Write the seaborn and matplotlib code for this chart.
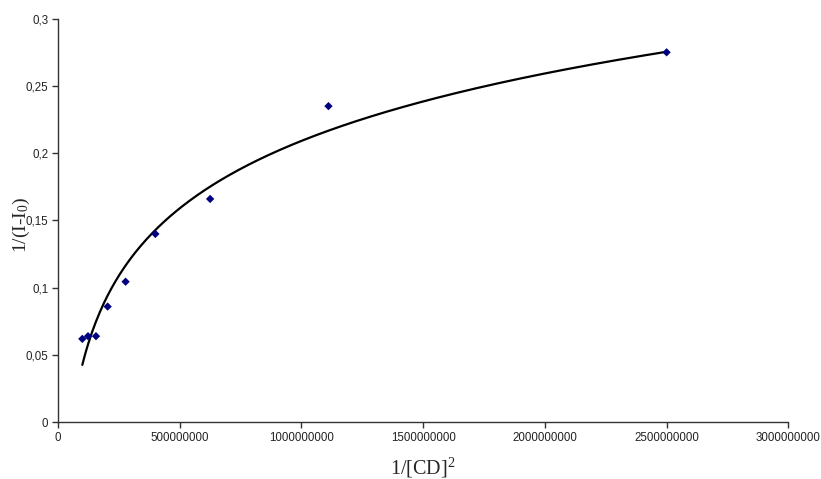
import numpy as np
import pandas as pd
import matplotlib
matplotlib.use('Agg')
import matplotlib.pyplot as plt
from matplotlib.ticker import FuncFormatter
import seaborn as sns

# data: x = 1/[CD]^2, y = 1/(I-I0)
inv_cd2 = [1.0e8, 1.2346e8, 1.5625e8, 2.0408e8, 2.7778e8, 4.0e8, 6.25e8, 1.1111e9, 2.5e9]
inv_di = [0.062, 0.064, 0.064, 0.086, 0.1045, 0.140, 0.166, 0.235, 0.275]

x_ticks = [0, 5e8, 1e9, 1.5e9, 2e9, 2.5e9, 3e9]
y_ticks = [0, 0.05, 0.1, 0.15, 0.2, 0.25, 0.3]

df = pd.DataFrame({'x': inv_cd2, 'y': inv_di})

# logarithmic trendline (like the spreadsheet one): y = a*ln(x) + b
a, b = np.polyfit(np.log(df['x']), df['y'], 1)
xfit = np.linspace(df['x'].min(), df['x'].max(), 300)
fit = pd.DataFrame({'x': xfit, 'y': a * np.log(xfit) + b})

sns.set_style('white')
plt.rcParams['font.family'] = ['Liberation Sans', 'DejaVu Sans']
plt.rcParams['mathtext.default'] = 'regular'

fig = plt.figure(figsize=(8.21, 4.79), dpi=100)
ax = fig.add_axes([0.0706, 0.1184, 0.8896, 0.8426])

sns.lineplot(data=fit, x='x', y='y', ax=ax, color='black', linewidth=1.6)
sns.scatterplot(data=df, x='x', y='y', ax=ax, marker='D', color='#000080',
                s=18, edgecolor='none', zorder=5)

ax.set_xlim(0, 3e9)
ax.set_ylim(0, 0.3)
ax.set_xticks(x_ticks)
ax.set_yticks(y_ticks)
ax.xaxis.set_major_formatter(FuncFormatter(lambda v, p: f'{int(round(v))}'))
ax.yaxis.set_major_formatter(FuncFormatter(lambda v, p: f'{v:g}'.replace('.', ',')))

sns.despine(ax=ax)
for sp in ['left', 'bottom']:
    ax.spines[sp].set_color('#333333')
    ax.spines[sp].set_linewidth(1.0)
ax.tick_params(axis='both', bottom=True, left=True, direction='out', length=4,
               width=1, color='#333333', labelsize=8.3, labelcolor='#222222', pad=3)

ax.set_xlabel('1/[CD]$^2$', family='Liberation Serif', fontsize=14.5, labelpad=8.5)
ax.set_ylabel('1/(I-I$_0$)', family='Liberation Serif', fontsize=14)
ax.yaxis.set_label_coords(-0.036, 0.49)

fig.savefig('out.png', dpi=100)
